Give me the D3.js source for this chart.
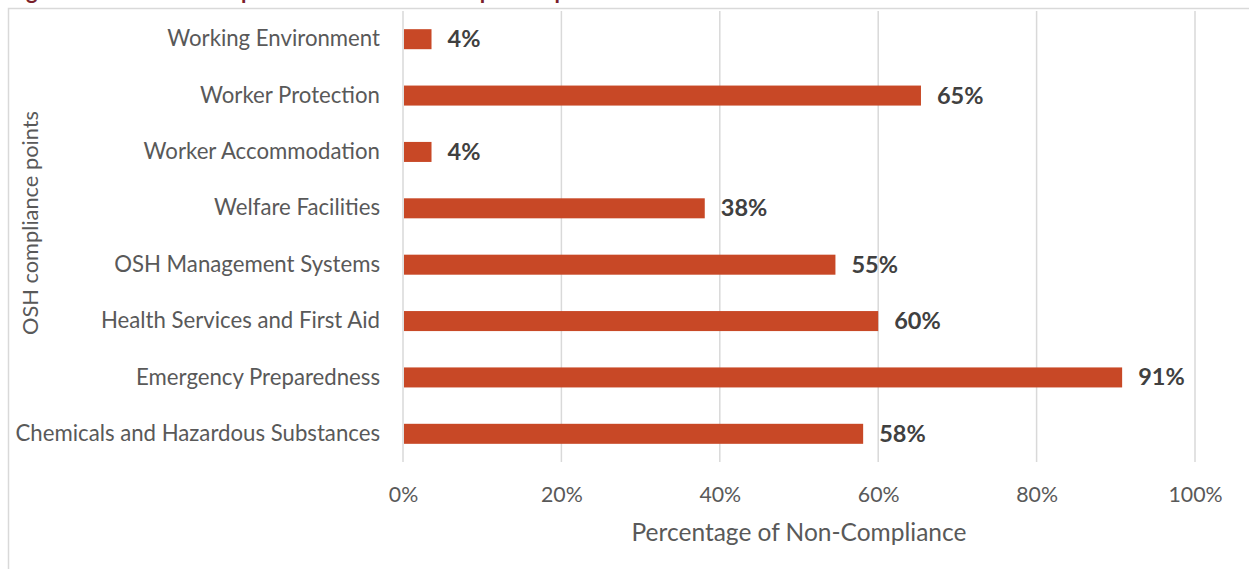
<!DOCTYPE html>
<html>
<head>
<meta charset="utf-8">
<script src="https://cdn.jsdelivr.net/npm/d3@7"></script>
<style>
  html, body { margin: 0; padding: 0; background: #fff; }
  svg { display: block; font-family: Lato, "Open Sans", sans-serif; }
</style>
</head>
<body>
<svg id="chart" width="1249" height="569"></svg>
<script>
// Non-compliance share by OSH compliance point (top to bottom)
const categories = [
  "Working Environment",
  "Worker Protection",
  "Worker Accommodation",
  "Welfare Facilities",
  "OSH Management Systems",
  "Health Services and First Aid",
  "Emergency Preparedness",
  "Chemicals and Hazardous Substances"
];
const nonCompliance = [0.036, 0.654, 0.036, 0.381, 0.546, 0.600, 0.908, 0.581];
const xTicks = [0, 0.2, 0.4, 0.6, 0.8, 1.0];
const titleText = "Figure 4: Main non-compliances in the OSH compliance points";
const xTitle = "Percentage of Non-Compliance";
const yTitle = "OSH compliance points";

const svg = d3.select("#chart");
const plot = { left: 403, right: 1195, top: 11, bottom: 462 };

const x = d3.scaleLinear().domain([0, 1]).range([plot.left, plot.right]);
const y = d3.scaleBand().domain(categories).range([plot.top, plot.bottom])
  .paddingInner(0.645).paddingOuter(0.3225);

// Caption above the chart frame
svg.append("text")
  .attr("x", 8).attr("y", -1)
  .attr("fill", "#7a1f2b")
  .attr("font-weight", "bold")
  .attr("font-size", 22)
  .text(titleText);

// Chart frame
svg.append("rect")
  .attr("x", 8.5).attr("y", 8.5)
  .attr("width", 1260).attr("height", 600)
  .attr("fill", "#fff")
  .attr("stroke", "#d9d9d9").attr("stroke-width", 1.5);

// Vertical gridlines
svg.append("g").selectAll("line").data(xTicks).join("line")
  .attr("x1", d => x(d)).attr("x2", d => x(d))
  .attr("y1", plot.top).attr("y2", plot.bottom)
  .attr("stroke", "#d9d9d9").attr("stroke-width", 1.5);

// Bars
svg.append("g").selectAll("rect").data(categories).join("rect")
  .attr("x", x(0) + 1)
  .attr("y", d => y(d))
  .attr("width", (d, i) => x(nonCompliance[i]) - x(0) - 1)
  .attr("height", y.bandwidth())
  .attr("fill", "#c84826");

// Value labels
const pct = d3.format(".0%");
svg.append("g").selectAll("text").data(categories).join("text")
  .attr("x", (d, i) => x(nonCompliance[i]) + 16)
  .attr("y", d => y(d) + y.bandwidth() / 2)
  .attr("dy", "0.34em")
  .attr("font-size", 23.5)
  .attr("font-weight", "bold")
  .attr("fill", "#404040")
  .text((d, i) => pct(nonCompliance[i]));

// Category axis labels
const yAxis = d3.axisLeft(y).tickSize(0).tickPadding(0);
const gy = svg.append("g").attr("transform", `translate(${plot.left - 23},0)`).call(yAxis);
gy.select(".domain").remove();
gy.selectAll("text")
  .attr("font-family", "Lato, 'Open Sans', sans-serif")
  .attr("font-size", 22.2)
  .attr("fill", "#595959");

// Percentage axis labels
const xAxis = d3.axisBottom(x).tickValues(xTicks).tickFormat(pct).tickSize(0).tickPadding(0);
const gx = svg.append("g").attr("transform", `translate(0,${plot.bottom + 25})`).call(xAxis);
gx.select(".domain").remove();
gx.selectAll("text")
  .attr("font-family", "Lato, 'Open Sans', sans-serif")
  .attr("font-size", 21.3)
  .attr("fill", "#595959");

// Axis titles
svg.append("text")
  .attr("x", 799)
  .attr("y", 541)
  .attr("text-anchor", "middle")
  .attr("font-size", 24.5)
  .attr("fill", "#595959")
  .text(xTitle);

svg.append("text")
  .attr("transform", "translate(38,223) rotate(-90)")
  .attr("text-anchor", "middle")
  .attr("font-size", 21.8)
  .attr("fill", "#595959")
  .text(yTitle);
</script>
</body>
</html>
